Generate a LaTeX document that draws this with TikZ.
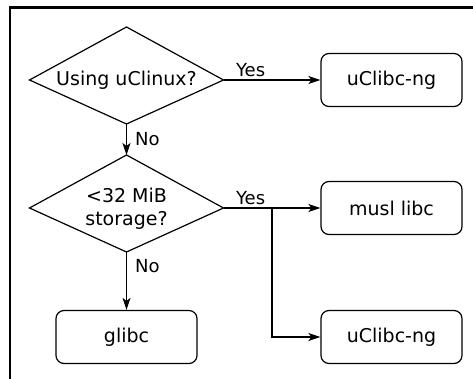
\documentclass[tikz,border=0pt]{standalone}
\usepackage{fontspec}
\setmainfont{DejaVu Sans}
\usetikzlibrary{arrows.meta,positioning}

\begin{document}
\begin{tikzpicture}[x=1pt,y=-1pt,line width=1.2pt,
        box/.style={draw,rounded corners=8pt,minimum width=141pt,minimum height=53pt,font=\fontsize{19}{23}\selectfont},
        ask/.style={align=center,font=\fontsize{19}{23}\selectfont},
        lbl/.style={font=\fontsize{18}{22}\selectfont,inner sep=3pt},
        arr/.style={-{Stealth[length=12pt,width=8pt,inset=3pt]}}]
    \useasboundingbox (0,0) rectangle (473,379);
    \draw[line width=2.2pt] (473,7.5) -- (10,7.5) -- (10,379);

    \draw (126.5,27) coordinate (using-t) -- (223.5,80) coordinate (using-r)
        -- (126.5,124) coordinate (using-b) -- (29.5,80) -- cycle;
    \node[ask] (using) at (126.5,80.5) {Using uClinux?};

    \draw (126.5,155) coordinate (size-t) -- (223.5,208) coordinate (size-r)
        -- (126.5,252) coordinate (size-b) -- (29.5,208) -- cycle;
    \node[ask] (size) at (126.5,209) {<32 MiB\\storage?};

    \node[box] (ng1)   at (391.5,80)  {uClibc-ng};
    \node[box] (musl)  at (391.5,208) {musl libc};
    \node[box] (ng2)   at (391.5,337) {uClibc-ng};
    \node[box] (glibc) at (126.5,337) {glibc};
    \coordinate (split) at (272,208);

    \draw[arr] (using-r) -- node[lbl,above,pos=0.28] {Yes} (ng1);
    \draw[arr] (using-b) -- node[lbl,right=5pt] {No} (size-t);
    \draw[arr] (size-r) -- node[lbl,above,pos=0.28] {Yes} (musl);
    \draw[arr] (split) |- (ng2);
    \draw[arr] (size-b) -- node[lbl,right=5pt,pos=0.24] {No} (glibc);
\end{tikzpicture}
\end{document}
